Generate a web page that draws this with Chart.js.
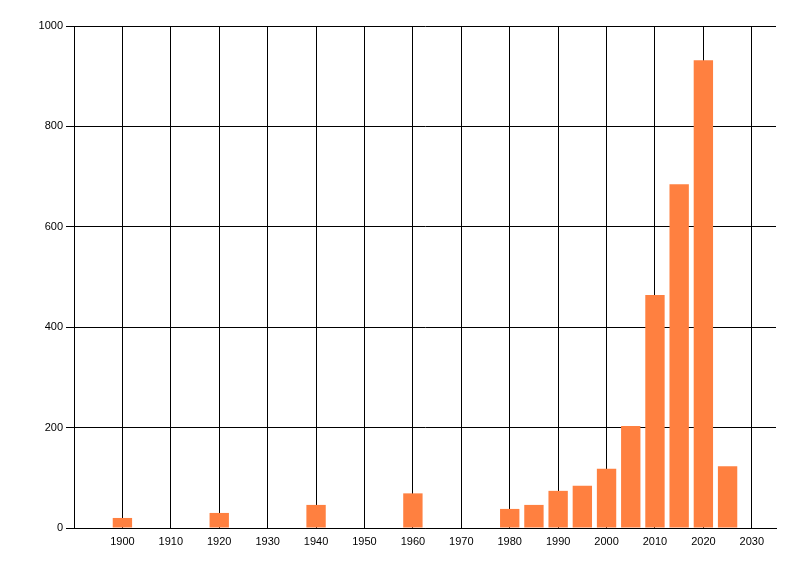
<!DOCTYPE html>
<html>
<head>
<meta charset="utf-8">
<script src="https://cdn.jsdelivr.net/npm/chart.js@4"></script>
<style>
  html, body { margin: 0; padding: 0; background: #fff; }
  #wrap { width: 800px; height: 576px; }
</style>
</head>
<body>
<div id="wrap"><canvas id="chart-area" width="800" height="576"></canvas></div>
<script>
var years  = [1900, 1920, 1940, 1960, 1980, 1985, 1990, 1995, 2000, 2005, 2010, 2015, 2020, 2025];
var counts = [20, 30, 46, 69, 38, 46, 74, 84, 118, 203, 464, 685, 932, 123];
var xTicks = [1900, 1910, 1920, 1930, 1940, 1950, 1960, 1970, 1980, 1990, 2000, 2010, 2020, 2030];
var yTicks = [0, 200, 400, 600, 800, 1000];

var points = [];
years.forEach(function (y, i) {
    points.push({x: y, y: counts[i]});
});

var tickFont = {family: "'Liberation Sans', Arial, sans-serif", size: 11};

var config = {
    type: 'bar',
    data: {
        datasets: [{
            data: points,
            backgroundColor: 'rgb(255,128,64)',
            borderWidth: 0,
            barPercentage: 0.8,
            categoryPercentage: 1
        }]
    },
    options: {
        responsive: false,
        animation: false,
        devicePixelRatio: 1,
        layout: {padding: {left: 0, right: 24, top: 26, bottom: 0}},
        plugins: {legend: {display: false}, tooltip: {enabled: false}},
        scales: {
            x: {
                type: 'linear',
                min: 1890,
                max: 2035,
                offset: false,
                grid: {color: '#000', lineWidth: 1, offset: false, drawTicks: false},
                border: {color: '#000', width: 1},
                ticks: {
                    color: '#000', font: tickFont, padding: 7, maxRotation: 0,
                    callback: function (v) { return String(v); }
                },
                afterBuildTicks: function (scale) {
                    scale.ticks = xTicks.map(function (v) { return {value: v}; });
                },
                afterFit: function (scale) { scale.height = 48; }
            },
            y: {
                min: 0,
                max: 1000,
                grid: {color: '#000', lineWidth: 1, tickLength: 8},
                border: {color: '#000', width: 1},
                ticks: {
                    color: '#000', font: tickFont, padding: 3,
                    callback: function (v) { return String(v); }
                },
                afterBuildTicks: function (scale) {
                    scale.ticks = yTicks.map(function (v) { return {value: v}; });
                },
                afterFit: function (scale) { scale.width = 74; }
            }
        }
    }
};

var ctx = document.getElementById('chart-area').getContext('2d');
window.myBar = new Chart(ctx, config);
</script>
</body>
</html>
